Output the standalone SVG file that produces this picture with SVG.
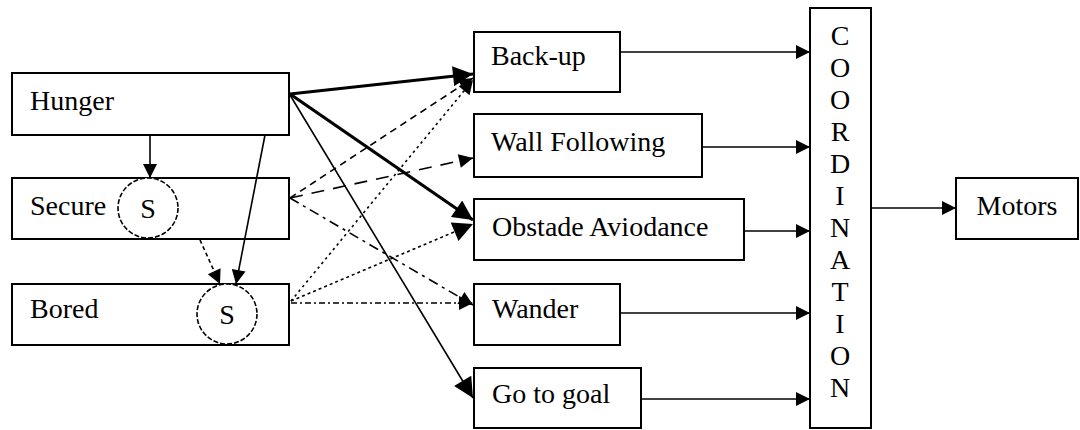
<svg xmlns="http://www.w3.org/2000/svg" width="1080" height="430" viewBox="0 0 1080 430">
<defs>
<style>
.box{fill:#fff;stroke:#000;stroke-width:2}
.t{font-family:"Liberation Serif","Times New Roman",serif;font-size:28px;fill:#000}
.c{text-anchor:middle}
.ln{fill:none;stroke:#000;stroke-width:1.6}
.thick{stroke-width:3.2}
.circ{fill:#fff;stroke:#000;stroke-width:1.6;stroke-dasharray:5 2}
</style>
<marker id="ah" viewBox="0 0 10 10" refX="10" refY="5" markerWidth="18" markerHeight="14" markerUnits="userSpaceOnUse" orient="auto">
<path d="M0,0 L10,5 L0,10 z" fill="#000"/>
</marker>
<marker id="ahb" viewBox="0 0 10 10" refX="10" refY="5" markerWidth="22" markerHeight="20" markerUnits="userSpaceOnUse" orient="auto">
<path d="M0,0 L10,5 L0,10 z" fill="#000"/>
</marker>
</defs>
<rect width="1080" height="430" fill="#fff"/>

<g id="hunger">
<rect class="box" x="12" y="73" width="277" height="62"/>
<text class="t" x="30" y="110">Hunger</text>
</g>
<g id="secure">
<rect class="box" x="12" y="178" width="277" height="61"/>
<text class="t" x="30" y="215">Secure</text>
<circle class="circ" cx="148" cy="208" r="30"/>
<text class="t c" x="148" y="218">S</text>
</g>
<g id="bored">
<rect class="box" x="12" y="284" width="277" height="61"/>
<text class="t" x="30" y="318">Bored</text>
<circle class="circ" cx="227" cy="314" r="30"/>
<text class="t c" x="227" y="324">S</text>
</g>

<g id="backup">
<rect class="box" x="474" y="32" width="146" height="60"/>
<text class="t" x="491" y="65">Back-up</text>
</g>
<g id="wall">
<rect class="box" x="474" y="114" width="228" height="63"/>
<text class="t" x="491" y="151">Wall Following</text>
</g>
<g id="obstacle">
<rect class="box" x="474" y="199" width="270" height="61"/>
<text class="t" x="492" y="236">Obstade Aviodance</text>
</g>
<g id="wander">
<rect class="box" x="474" y="284" width="146" height="61"/>
<text class="t" x="492" y="318">Wander</text>
</g>
<g id="gotogoal">
<rect class="box" x="474" y="368" width="167" height="60"/>
<text class="t" x="492" y="403">Go to goal</text>
</g>

<g id="coordination">
<rect class="box" x="810" y="8" width="61" height="420"/>
<text class="t c" x="840" y="45">C</text>
<text class="t c" x="840" y="77">O</text>
<text class="t c" x="840" y="109">O</text>
<text class="t c" x="840" y="141">R</text>
<text class="t c" x="840" y="173">D</text>
<text class="t c" x="840" y="205">I</text>
<text class="t c" x="840" y="237">N</text>
<text class="t c" x="840" y="269">A</text>
<text class="t c" x="840" y="301">T</text>
<text class="t c" x="840" y="333">I</text>
<text class="t c" x="840" y="365">O</text>
<text class="t c" x="840" y="397">N</text>
</g>

<g id="motors">
<rect class="box" x="956" y="178" width="122" height="61"/>
<text class="t c" x="1017" y="215">Motors</text>
</g>

<g id="connectors">
<line class="ln" x1="150" y1="135" x2="150" y2="178" marker-end="url(#ah)"/>
<line class="ln" x1="265" y1="135" x2="236" y2="284" marker-end="url(#ah)"/>
<line class="ln" x1="200" y1="240" x2="220" y2="284" stroke-dasharray="4 3" marker-end="url(#ah)"/>
<line class="ln thick" x1="290" y1="94" x2="473" y2="74" marker-end="url(#ahb)"/>
<line class="ln thick" x1="290" y1="94" x2="473" y2="220" marker-end="url(#ahb)"/>
<line class="ln" x1="290" y1="95" x2="473" y2="398" marker-end="url(#ahb)"/>
<line class="ln" x1="290" y1="198" x2="473" y2="78" stroke-dasharray="7 5" marker-end="url(#ah)"/>
<line class="ln" x1="290" y1="198" x2="473" y2="158" stroke-dasharray="13 9" marker-end="url(#ah)"/>
<line class="ln" x1="290" y1="198" x2="473" y2="305" stroke-dasharray="10 5 3 5" marker-end="url(#ah)"/>
<line class="ln" x1="291" y1="301" x2="473" y2="80" stroke-dasharray="2.5 3.5" stroke-width="2" marker-end="url(#ah)"/>
<line class="ln" x1="291" y1="301" x2="473" y2="224" stroke-dasharray="3 3" stroke-width="2" marker-end="url(#ahb)"/>
<line class="ln" x1="291" y1="303" x2="473" y2="303" stroke-dasharray="6 3 2 3" marker-end="url(#ah)"/>
<line class="ln" x1="620" y1="52" x2="810" y2="52" marker-end="url(#ah)"/>
<line class="ln" x1="702" y1="147" x2="810" y2="147" marker-end="url(#ah)"/>
<line class="ln" x1="744" y1="231" x2="810" y2="231" marker-end="url(#ah)"/>
<line class="ln" x1="620" y1="313" x2="810" y2="313" marker-end="url(#ah)"/>
<line class="ln" x1="641" y1="399" x2="810" y2="399" marker-end="url(#ah)"/>
<line class="ln" x1="871" y1="208" x2="956" y2="208" marker-end="url(#ah)"/>
</g>
</svg>
